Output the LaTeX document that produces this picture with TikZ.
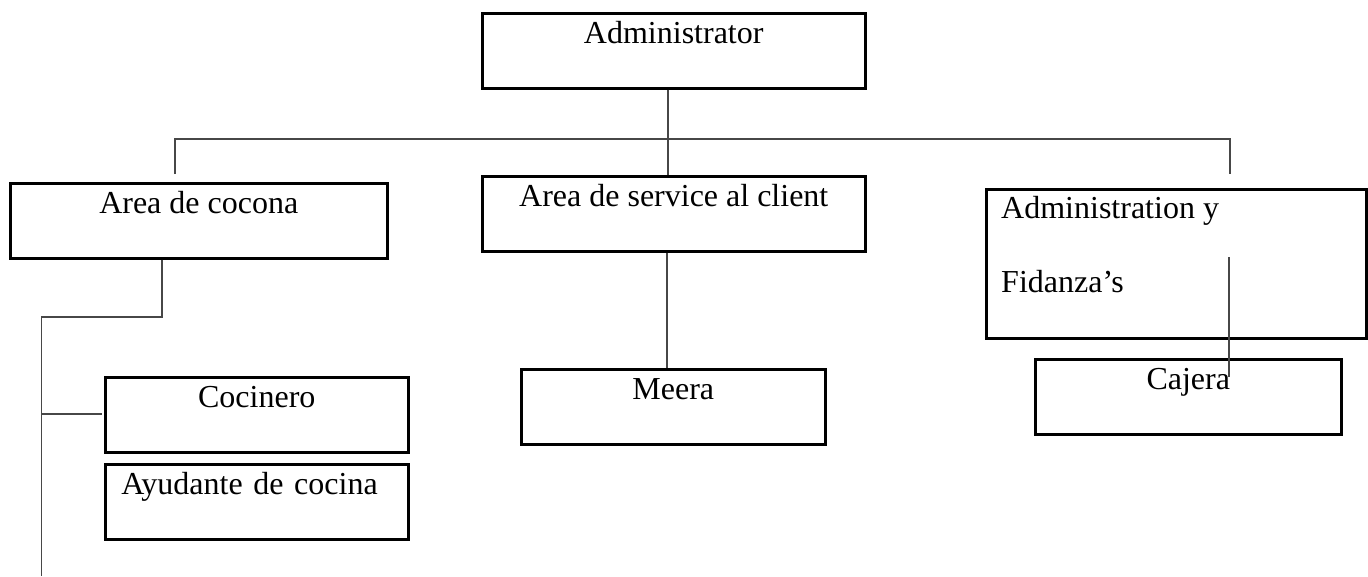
\documentclass[tikz,border=0pt]{standalone}
\usepackage{fontspec}
\setmainfont{Liberation Serif}
\begin{document}
\begin{tikzpicture}[x=1pt,y=-1pt,
  box/.style={draw, line width=2.5pt, inner sep=0pt, text height=30pt, text depth=45pt, anchor=north west, font=\fontsize{32}{38}\selectfont},
  txt/.style={inner sep=0pt, anchor=base west, font=\fontsize{32}{38}\selectfont},
  conn/.style={line width=1.3pt, draw=black!72}]
\useasboundingbox (0,0) rectangle (1368,576);
% boxes
\node[box, minimum width=383pt] (adm) at (481,12) {Administrator};
\node[box, minimum width=377pt] (coc) at (9,182) {Area de cocona};
\node[box, minimum width=383pt] (serv) at (481,175) {Area de service al client};
\node[box, minimum width=380pt, text depth=119pt] (fin) at (985,188) {};
\node[txt] (fin1) at (1001,218) {Administration y};
\node[txt] (fin2) at (1001,292) {Fidanza’s};
\node[box, minimum width=303pt] (cocin) at (104,376) {Cocinero};
\node[box, text width=271pt, inner xsep=16pt, align=left] (ayu) at (104,463) {Ayudante de cocina};
\node[box, minimum width=304pt] (meera) at (520,368) {Meera};
\node[box, minimum width=306pt] (caj) at (1034,358) {Cajera};
% named points
\coordinate (busL) at (175,139);
\coordinate (busM) at (668,139);
\coordinate (busR) at (1230,139);
\coordinate (cocTop) at (175,174);
\coordinate (finTop) at (1230,174);
\coordinate (sx) at (667,0);
\coordinate (k1) at (162,317);
\coordinate (k2) at (41.5,317);
\coordinate (k3) at (41.5,576);
\coordinate (k4) at (41.5,414);
\coordinate (k5) at (102,414);
\coordinate (f1) at (1229,257);
\coordinate (f2) at (1229,377);
% connectors
\draw[conn] (adm.south -| busM) -- (serv.north -| busM);
\draw[conn] (cocTop) -- (busL) -- (busR) -- (finTop);
\draw[conn] (serv.south -| sx) -- (meera.north -| sx);
\draw[conn] (coc.south -| k1) -- (k1) -- (k2) -- (k3);
\draw[conn] (k4) -- (k5);
\draw[conn] (f1) -- (f2);
\end{tikzpicture}
\end{document}
